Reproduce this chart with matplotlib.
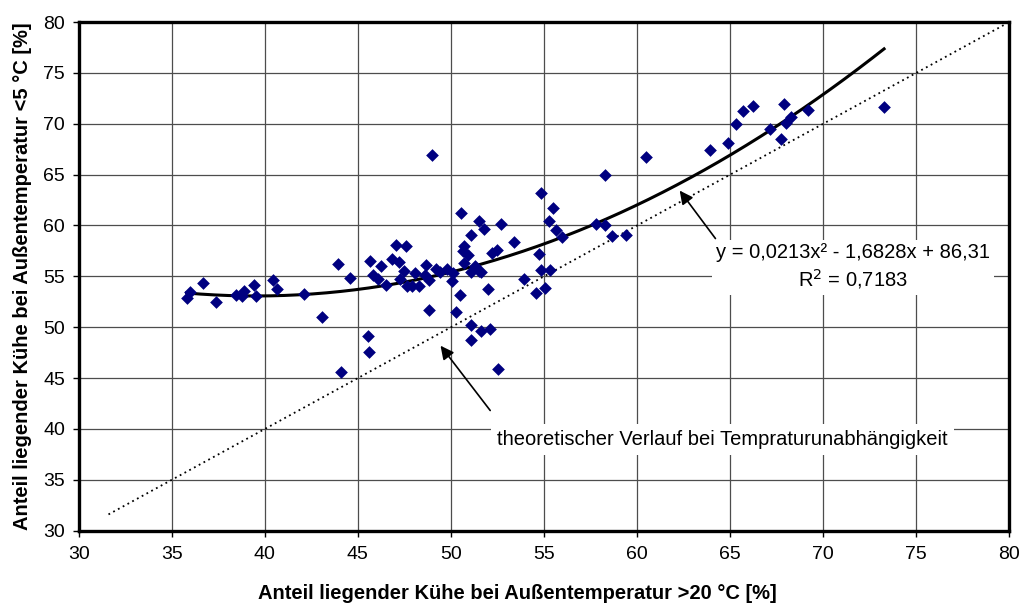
import matplotlib
matplotlib.use("Agg")
import matplotlib.pyplot as plt
import numpy as np

plt.rcParams['font.family'] = ['Liberation Sans', 'DejaVu Sans']

# data: share lying at >20 °C (x) vs share lying at <5 °C (y)
x_hot = [35.8, 36.0, 36.7, 37.4, 38.45, 38.8, 38.9, 39.4, 39.55, 40.45, 40.65,
         42.1, 43.05, 43.95, 44.1, 44.55,
         45.55, 45.6, 45.67, 45.8, 46.08, 46.25, 46.52, 46.85, 47.22, 47.06,
         47.56, 47.24, 47.5, 47.65, 47.9, 48.08, 48.31, 48.6, 48.67, 48.84,
         48.82, 49.2, 49.4, 49.78, 50.06, 49.0,
         50.1, 50.27, 50.5, 50.54, 50.72, 50.63, 50.93, 50.72, 51.31, 51.08,
         51.5, 51.62, 51.1, 51.5, 51.8, 52.68, 52.2, 52.48, 51.97, 51.08,
         51.08, 51.62, 52.12, 52.52, 53.37,
         53.9, 54.57, 55.08, 54.75, 54.83, 55.3, 54.83, 55.47, 55.28, 55.67,
         55.98,
         57.8, 58.28, 58.25, 58.65, 59.38, 60.47,
         63.9, 64.88, 65.32, 65.68, 66.25, 67.89, 67.14, 67.75, 68.0, 68.25,
         69.2, 73.27]
y_cold = [52.9, 53.45, 54.3, 52.5, 53.2, 53.1, 53.6, 54.2, 53.1, 54.6, 53.8,
          53.3, 51.0, 56.2, 45.6, 54.85,
          49.15, 47.6, 56.5, 55.1, 54.75, 56.0, 54.2, 56.75, 56.4, 58.1,
          58.0, 54.7, 55.5, 54.1, 54.05, 55.3, 54.1, 55.1, 56.1, 54.6,
          51.7, 55.7, 55.4, 55.75, 54.5, 66.95,
          55.3, 51.5, 53.2, 61.2, 57.95, 57.45, 57.1, 56.3, 56.0, 55.45,
          55.5, 55.4, 59.1, 60.4, 59.7, 60.1, 57.3, 57.6, 53.8, 50.25,
          48.75, 49.6, 49.78, 45.9, 58.4,
          54.72, 53.4, 53.9, 57.2, 55.62, 55.65, 63.2, 61.68, 60.47, 59.57,
          58.9,
          60.15, 60.08, 65.0, 58.93, 59.03, 66.75,
          67.44, 68.06, 69.96, 71.21, 71.73, 71.96, 69.47, 68.46, 70.1, 70.7,
          71.34, 71.68]

# polynomial trend (as printed on chart)
coef_a, coef_b, coef_c = 0.0213, -1.6828, 86.31
trend_label = "y = 0,0213x² - 1,6828x + 86,31\nR$^2$ = 0,7183"
ref_label = "theoretischer Verlauf bei Tempraturunabhängigkeit"
ref_range = [31.6, 80.0]

xticks = [30, 35, 40, 45, 50, 55, 60, 65, 70, 75, 80]
yticks = [30, 35, 40, 45, 50, 55, 60, 65, 70, 75, 80]
xlabel = "Anteil liegender Kühe bei Außentemperatur >20 °C [%]"
ylabel = "Anteil liegender Kühe bei Außentemperatur <5 °C [%]"

fig = plt.figure(figsize=(10.22, 6.05), dpi=100)
ax = fig.add_axes([0.077, 0.1228, 0.9106, 0.8408])
ax.set_xlim(30, 80)
ax.set_ylim(30, 80)
ax.set_xticks(xticks)
ax.set_yticks(yticks)
ax.grid(True, color='#4d4d4d', linewidth=0.9, zorder=0)
ax.set_axisbelow(True)
for s in ax.spines.values():
    s.set_linewidth(2.4)
    s.set_color('black')
ax.tick_params(direction='out', length=4.3, width=1, labelsize=14)
ax.tick_params(axis='x', pad=6.5)
ax.tick_params(axis='y', pad=5.5)

# reference line y = x
ax.plot(ref_range, ref_range, linestyle=(0, (1, 2)), color='black',
        linewidth=1.3, zorder=2)

# trend curve
xt = np.linspace(min(x_hot), max(x_hot), 300)
yt = coef_a * xt**2 + coef_b * xt + coef_c
ax.plot(xt, yt, color='black', linewidth=2.2, zorder=3)

ax.scatter(x_hot, y_cold, marker='D', s=42, color='#000080', zorder=4,
           linewidths=0)

# annotation: trend equation
ax.text(71.6, 55.9, trend_label, ha='center', va='center', fontsize=14.5,
        linespacing=1.25, zorder=5,
        bbox=dict(boxstyle='square,pad=0.2', facecolor='white',
                  edgecolor='none'))
ax.annotate("", xy=(62.2, 63.65), xytext=(64.3, 58.5),
            arrowprops=dict(arrowstyle='-|>', color='black', lw=1.2,
                            mutation_scale=20), zorder=6)

# annotation: reference line
ax.text(64.6, 39.0, ref_label, ha='center', va='center', fontsize=14.5,
        zorder=5,
        bbox=dict(boxstyle='square,pad=0.3', facecolor='white',
                  edgecolor='none'))
ax.annotate("", xy=(49.35, 48.4), xytext=(52.2, 41.6),
            arrowprops=dict(arrowstyle='-|>', color='black', lw=1.2,
                            mutation_scale=20), zorder=6)

ax.set_xlabel(xlabel, fontsize=14.5, fontweight='bold')
ax.xaxis.set_label_coords(0.471, -0.105)
ax.set_ylabel(ylabel, fontsize=14.5, fontweight='bold', labelpad=8)

fig.savefig("out.png", dpi=100)
